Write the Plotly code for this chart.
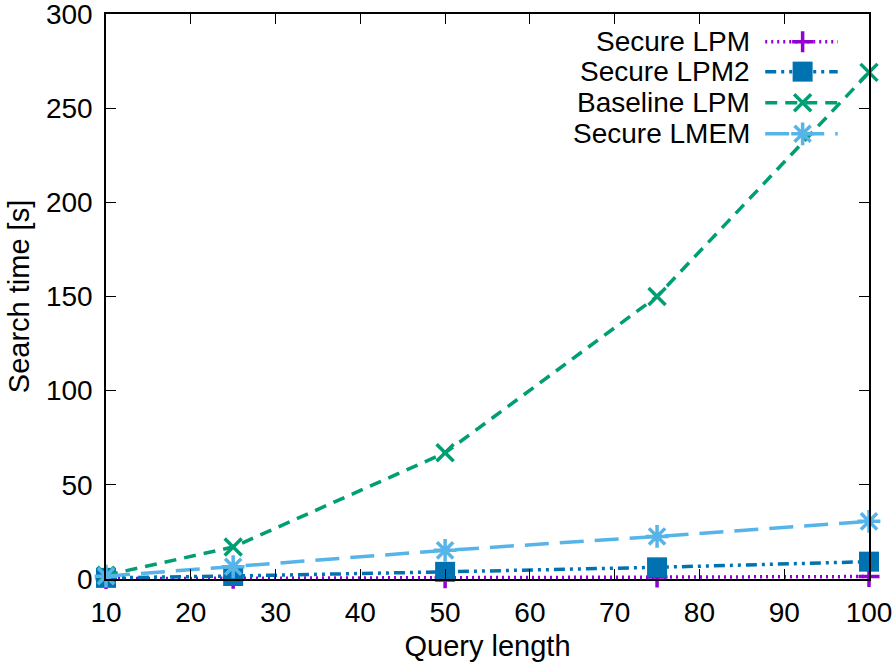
import plotly.graph_objects as go

query_length = [10, 25, 50, 75, 100]
secure_lpm = [0.2, 0.4, 0.7, 1.0, 1.3]
secure_lpm2 = [0.6, 1.6, 3.8, 6.2, 9.2]
baseline_lpm = [2.0, 17.0, 67.0, 150.0, 269.0]
secure_lmem = [1.5, 6.5, 15.2, 22.6, 30.6]

series_names = ["Secure LPM", "Secure LPM2", "Baseline LPM", "Secure LMEM"]
series_values = [secure_lpm, secure_lpm2, baseline_lpm, secure_lmem]
colors = ["#9400d3", "#0072b2", "#009e73", "#56b4e9"]
dashes = ["2px,4px", "11px,5px,3px,5px,3px,5px", "12px,8px", "24px,11px"]
symbols = ["cross-thin-open", "square", "x-thin-open", "asterisk-open"]
msizes = [15, 20, 17, 19]

x_ticks = [10, 20, 30, 40, 50, 60, 70, 80, 90, 100]
y_ticks = [0, 50, 100, 150, 200, 250, 300]

FONT = "Liberation Sans, Arial, sans-serif"

fig = go.Figure()
for name, vals, c, d, s, ms in zip(series_names, series_values, colors, dashes, symbols, msizes):
    fig.add_trace(go.Scatter(
        x=query_length, y=vals, name=name, mode="lines+markers",
        line=dict(color=c, width=3.5, dash=d),
        marker=dict(symbol=s, size=ms, color=c,
                    line=dict(color=c, width=3.5 if "open" in s else 0)),
        cliponaxis=False, showlegend=False,
    ))

# custom gnuplot-style legend (text on the left, sample on the right)
leg_y = [0.951, 0.898, 0.843, 0.788]
for name, c, d, s, ms, ly in zip(series_names, colors, dashes, symbols, msizes, leg_y):
    fig.add_trace(go.Scatter(
        x=[0.864, 0.959], y=[ly, ly], mode="lines",
        line=dict(color=c, width=3.5, dash=d),
        xaxis="x2", yaxis="y2", showlegend=False, hoverinfo="skip",
    ))
    fig.add_trace(go.Scatter(
        x=[0.913], y=[ly], mode="markers",
        marker=dict(symbol=s, size=ms, color=c,
                    line=dict(color=c, width=3.5 if "open" in s else 0)),
        xaxis="x2", yaxis="y2", showlegend=False, hoverinfo="skip",
    ))
    fig.add_annotation(
        x=0.846, y=ly, xref="x2", yref="y2", text=name, showarrow=False,
        xanchor="right", yanchor="middle",
        font=dict(family=FONT, size=28, color="black"),
    )

axis_common = dict(
    showgrid=False, zeroline=False, showline=True, linecolor="black",
    linewidth=1.5, mirror="ticks", ticks="inside", ticklen=10,
    tickwidth=1.2, tickcolor="black", automargin=False,
    ticklabeloverflow="allow",
    tickfont=dict(family=FONT, size=28, color="black"),
)

fig.update_layout(
    width=896, height=665,
    margin=dict(l=106, r=27, t=14, b=86),
    paper_bgcolor="white", plot_bgcolor="white",
    xaxis=dict(range=[10, 100], tickvals=x_ticks,
               title=dict(text="Query length", font=dict(family=FONT, size=29, color="black"), standoff=8),
               ticklabelstandoff=8, **axis_common),
    yaxis=dict(range=[0, 300], tickvals=y_ticks,
               title=dict(text="Search time [s]", font=dict(family=FONT, size=29, color="black"), standoff=8),
               ticklabelstandoff=6, **axis_common),
    xaxis2=dict(range=[0, 1], overlaying="x", visible=False, fixedrange=True),
    yaxis2=dict(range=[0, 1], overlaying="y", visible=False, fixedrange=True),
    showlegend=False,
)

fig.write_html("out.html", config={"displayModeBar": False},
               post_script="document.body.style.margin='0';")
